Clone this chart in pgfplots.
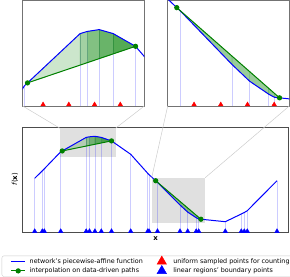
\documentclass[border=0pt]{standalone}
\usepackage{fontspec}
\setmainfont{DejaVu Sans}
\usepackage{pgfplots}
\usepackage{pgfplotstable}
\pgfplotsset{compat=1.18}
\definecolor{mplgreen}{RGB}{0,128,0}

\pgfplotstableread{
x y
34.7 54.7
42.3 62.2
44.3 64.2
60.7 81.2
86.2 95.6
89.5 96.2
94.9 96.7
101.3 95.6
111.5 92.1
130.7 78.7
147.7 59.7
149.0 58.4
157.5 50.6
180.0 28.0
187.7 20.9
196.2 15.3
198.7 14.0
225.3 11.3
241.3 19.0
244.3 20.5
247.3 22.3
277.0 52.3
}\curve

\pgfplotstableread{
x y
62.2 82.05
111.5 92.1
}\greenA

\pgfplotstableread{
x y
155.7 52.25
200.9 13.78
}\greenB

\pgfplotstableread{
x y
34.7 1.65
42.3 1.65
44.3 1.65
60.7 1.65
86.2 1.65
89.5 1.65
94.9 1.65
101.3 1.65
111.5 1.65
130.7 1.65
147.7 1.65
149.0 1.65
157.5 1.65
180.0 1.65
187.7 1.65
196.2 1.65
198.7 1.65
225.3 1.65
241.3 1.65
244.3 1.65
247.3 1.65
277.0 1.65
}\boundpts

\newcommand{\commonplots}{%
  \addplot[draw=blue, draw opacity=0.2, line width=0.8pt, ycomb, forget plot] table {\curve};
  % shaded regions, left path
  \addplot[fill=mplgreen, fill opacity=0.2, draw=mplgreen, draw opacity=0.25, line width=0.3pt, forget plot]
    coordinates {(62.2,82.05) (86.2,95.6) (86.2,86.94)} -- cycle;
  \addplot[fill=mplgreen, fill opacity=0.36, draw=mplgreen, draw opacity=0.25, line width=0.3pt, forget plot]
    coordinates {(86.2,86.94) (86.2,95.6) (89.5,96.2) (89.5,87.62)} -- cycle;
  \addplot[fill=mplgreen, fill opacity=0.49, draw=mplgreen, draw opacity=0.25, line width=0.3pt, forget plot]
    coordinates {(89.5,87.62) (89.5,96.2) (94.9,96.7) (94.9,88.72)} -- cycle;
  \addplot[fill=mplgreen, fill opacity=0.59, draw=mplgreen, draw opacity=0.25, line width=0.3pt, forget plot]
    coordinates {(94.9,88.72) (94.9,96.7) (101.3,95.6) (101.3,90.02)} -- cycle;
  \addplot[fill=mplgreen, fill opacity=0.67, draw=mplgreen, draw opacity=0.25, line width=0.3pt, forget plot]
    coordinates {(101.3,90.02) (101.3,95.6) (111.5,92.1)} -- cycle;
  % shaded regions, right path
  \addplot[fill=mplgreen, fill opacity=0.4, draw=mplgreen, draw opacity=0.3, line width=0.3pt, forget plot]
    coordinates {(155.7,52.25) (157.5,50.6) (157.5,50.72)} -- cycle;
  \addplot[fill=mplgreen, fill opacity=0.4, draw=mplgreen, draw opacity=0.3, line width=0.3pt, forget plot]
    coordinates {(157.5,50.72) (157.5,50.6) (180,28.0) (180,31.57)} -- cycle;
  \addplot[fill=mplgreen, fill opacity=0.4, draw=mplgreen, draw opacity=0.3, line width=0.3pt, forget plot]
    coordinates {(180,31.57) (180,28.0) (187.7,20.9) (187.7,25.02)} -- cycle;
  \addplot[fill=mplgreen, fill opacity=0.4, draw=mplgreen, draw opacity=0.3, line width=0.3pt, forget plot]
    coordinates {(187.7,25.02) (187.7,20.9) (196.2,15.3) (196.2,17.78)} -- cycle;
  \addplot[fill=mplgreen, fill opacity=0.4, draw=mplgreen, draw opacity=0.3, line width=0.3pt, forget plot]
    coordinates {(196.2,17.78) (196.2,15.3) (198.7,14.0) (198.7,15.65)} -- cycle;
  \addplot[fill=mplgreen, fill opacity=0.4, draw=mplgreen, draw opacity=0.3, line width=0.3pt, forget plot]
    coordinates {(198.7,15.65) (198.7,14.0) (200.9,13.78)} -- cycle;
  \addplot[blue, line width=1pt, forget plot] table {\curve};
  \addplot[mplgreen, line width=1pt, mark=*, mark size=2.1, mark options={fill=mplgreen, draw=mplgreen}, forget plot] table {\greenA};
  \addplot[mplgreen, line width=1pt, mark=*, mark size=2.1, mark options={fill=mplgreen, draw=mplgreen}, forget plot] table {\greenB};
}

\pgfplotsset{
  common/.style={
    scale only axis,
    anchor=south west,
    xtick=\empty, ytick=\empty,
    clip mode=global,
  },
}

\begin{document}
\begin{tikzpicture}
\useasboundingbox (0,0) rectangle (290bp,277bp);

% ---------------- main axis ----------------
\begin{axis}[common,
  at={(22.7bp,44.3bp)},
  width=266bp, height=105bp,
  xmin=22.7, xmax=288.7, ymin=0.3, ymax=105.3,
  axis line style={black!70, line width=0.7pt},
  font=\fontsize{7}{8.4}\selectfont,
  ylabel={{\itshape f}(\textbf{x})},
  xlabel={\textbf{x}},
  ylabel style={at={(axis description cs:-0.029,0.51)}, anchor=center},
  xlabel style={at={(axis description cs:0.5,-0.06)}, anchor=center},
  legend columns=2,
  legend cell align=left,
  legend image code/.code={%
    \path[draw=none, fill=none] (0bp,-2bp) rectangle (14bp,2bp);
    \begin{scope}[overlay, sharp corners]
    \draw[sharp corners, mark repeat=2,mark phase=2,#1] plot coordinates {(0bp,0bp) (7bp,0bp) (14bp,0bp)};
    \end{scope}},
  legend style={
    at={(axis description cs:-0.0789,-0.219)}, anchor=north west,
    font=\fontsize{6.4}{7.7}\selectfont,
    draw=black!20, rounded corners=2bp, fill=white,
    inner xsep=9.3bp, inner ysep=2.6bp,
    row sep=3.4bp,
    nodes={inner sep=0pt, text height=4.6bp, text depth=1.4bp},
    /tikz/every odd column/.append style={column sep=4.5bp},
    /tikz/every even column/.append style={column sep=12bp},
  },
]
  \addplot[fill=black, fill opacity=0.12, draw=none, forget plot]
    coordinates {(60,75.7) (115.5,75.7) (115.5,104.7) (60,104.7)} -- cycle;
  \addplot[fill=black, fill opacity=0.12, draw=none, forget plot]
    coordinates {(151.7,10.3) (205.2,10.3) (205.2,55.3) (151.7,55.3)} -- cycle;
  \commonplots
  \addplot[only marks, mark=triangle*, mark size=2.7, color=blue, mark options={fill=blue, draw=blue}, forget plot] table {\boundpts};

  \addlegendimage{blue, line width=1pt}
  \addlegendentry{network{\char39}s piecewise-affine function}
  \addlegendimage{only marks, mark=triangle*, mark size=5.5, color=red, mark options={fill=red, draw=red}}
  \addlegendentry{uniform sampled points for counting}
  \addlegendimage{mplgreen, line width=1pt, mark=*, mark size=2.1, mark options={fill=mplgreen}}
  \addlegendentry{interpolation on data-driven paths}
  \addlegendimage{only marks, mark=triangle*, mark size=5.5, color=blue, mark options={fill=blue, draw=blue}}
  \addlegendentry{linear regions{\char39} boundary points}

  \coordinate (r1tl) at (axis cs:60,104.7);
  \coordinate (r1tr) at (axis cs:115.5,104.7);
  \coordinate (r2tl) at (axis cs:151.7,55.3);
  \coordinate (r2tr) at (axis cs:205.2,55.3);
\end{axis}

% ---------------- left inset ----------------
\begin{axis}[common,
  at={(22.7bp,171bp)},
  width=121.6bp, height=105.5bp,
  xmin=60, xmax=115.5, ymin=75.7, ymax=104.7,
  axis line style={black!55, line width=0.8pt},
]
  \commonplots
  \addplot[only marks, mark=triangle*, mark size=2.7, color=red, mark options={fill=red, draw=red}]
    coordinates {(69.3,76.07) (81.05,76.07) (92.8,76.07) (104.55,76.07)};
  \coordinate (a1) at (rel axis cs:0,0);
  \coordinate (a2) at (rel axis cs:1,0);
\end{axis}

% ---------------- right inset ----------------
\begin{axis}[common,
  at={(167.7bp,171bp)},
  width=121.6bp, height=105.5bp,
  xmin=151.7, xmax=205.2, ymin=10.3, ymax=55.3,
  axis line style={black!55, line width=0.8pt},
]
  \commonplots
  \addplot[only marks, mark=triangle*, mark size=2.7, color=red, mark options={fill=red, draw=red}]
    coordinates {(151.55,10.88) (163.3,10.88) (175.05,10.88) (186.8,10.88) (198.55,10.88)};
  \coordinate (b1) at (rel axis cs:0,0);
  \coordinate (b2) at (rel axis cs:1,0);
\end{axis}

\draw[black!20, line width=0.5pt] (a1) -- (r1tl) (a2) -- (r1tr) (b1) -- (r2tl) (b2) -- (r2tr);
\end{tikzpicture}
\end{document}
